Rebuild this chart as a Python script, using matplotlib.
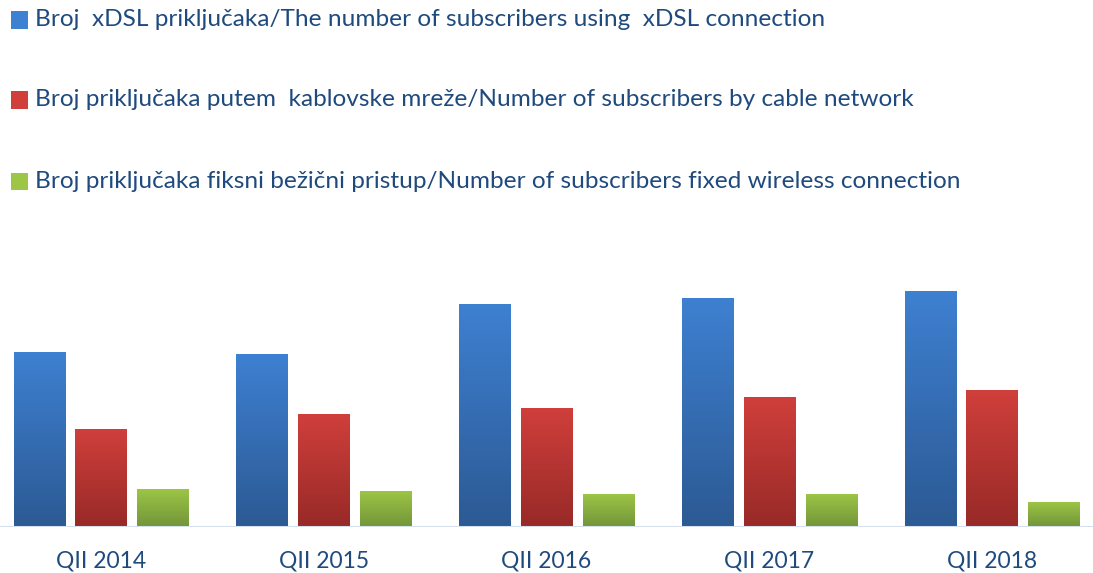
import numpy as np
import matplotlib.pyplot as plt
from matplotlib.colors import LinearSegmentedColormap
from matplotlib.patches import Rectangle

# data (thousands - no y axis shown)
quarters = ["QII 2014", "QII 2015", "QII 2016", "QII 2017", "QII 2018"]
xdsl = [87.3, 86.3, 111.3, 114.3, 117.8]
cable = [48.8, 56.3, 59.3, 64.8, 68.3]
wireless = [18.8, 17.8, 16.3, 16.3, 12.3]
labels = [
    "Broj  xDSL priključaka/The number of subscribers using  xDSL connection",
    "Broj priključaka putem  kablovske mreže/Number of subscribers by cable network",
    "Broj priključaka fiksni bežični pristup/Number of subscribers fixed wireless connection",
]
# (top, bottom) gradient colours per series
grads = [("#3e80d1", "#2c5a94"), ("#d03f3b", "#982a28"), ("#9dc646", "#74963a")]
text_col = "#1f4a7e"

plt.rcParams["font.family"] = ["Lato", "DejaVu Sans"]

W, H = 1093, 573
fig = plt.figure(figsize=(W / 100, H / 100), dpi=100)
ax = fig.add_axes([0, 46.5 / H, 1, 286.5 / H])

x = np.arange(len(quarters))
width = 0.229
step = 0.278
for i, (vals, (ctop, cbot)) in enumerate(zip([xdsl, cable, wireless], grads)):
    pos = x + (i - 1) * step
    bars = ax.bar(pos, vals, width, color=ctop, zorder=2)
    cmap = LinearSegmentedColormap.from_list("g%d" % i, [cbot, ctop])
    grad = np.linspace(0, 1, 100).reshape(-1, 1)
    for b in bars:
        bx, bw, bh = b.get_x(), b.get_width(), b.get_height()
        im = ax.imshow(grad, cmap=cmap, origin="lower", aspect="auto",
                       extent=[bx, bx + bw, 0, bh], zorder=3)
        im.set_clip_path(b)

ax.set_xlim(-0.4534, 4.4534)
ax.set_ylim(0, 143.25)
ax.axhline(0, color="#d5e0ef", lw=2.2, zorder=4)
for s in ax.spines.values():
    s.set_visible(False)
ax.set_yticks([])
ax.set_xticks(x)
ax.set_xticklabels(quarters, fontsize=16.5, color=text_col)
ax.tick_params(axis="x", length=0, pad=17)

# legend drawn by hand: square marker + label, one per row
rows_y = [20, 100, 181]
for (ctop, cbot), lab, yc in zip(grads, labels, rows_y):
    cmap = LinearSegmentedColormap.from_list("lg", [cbot, ctop])
    sq = Rectangle((11 / W, 1 - (yc + 8.5) / H), 17 / W, 17 / H,
                   transform=fig.transFigure, facecolor=ctop, edgecolor="none")
    fig.add_artist(sq)
    fig.text(35 / W, 1 - yc / H, lab, fontsize=17.6, color=text_col,
             va="center", ha="left")

fig.savefig("out.png", dpi=100)
